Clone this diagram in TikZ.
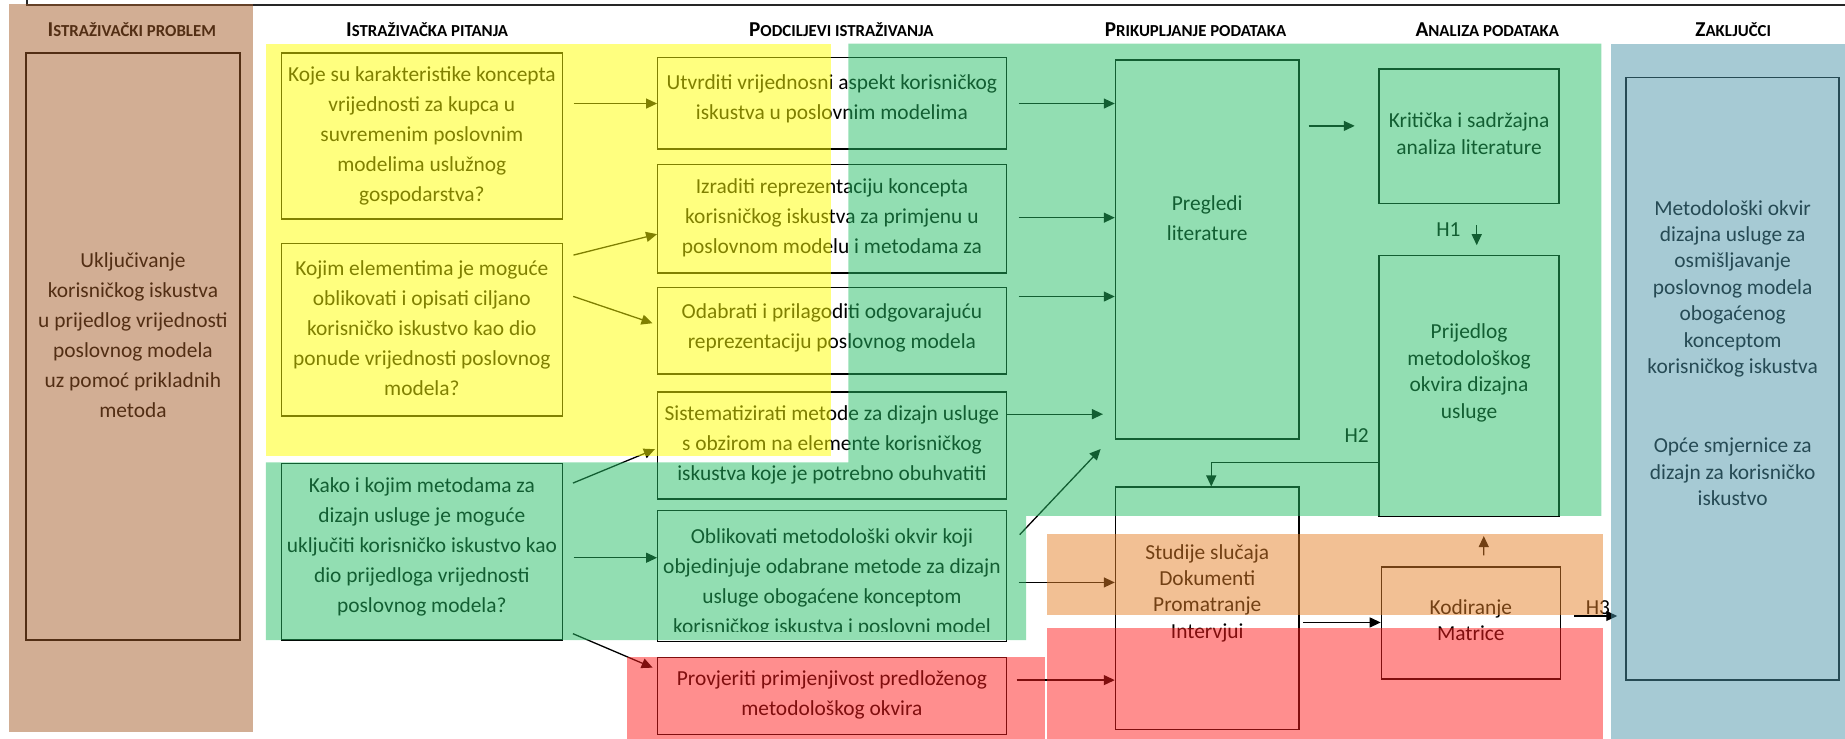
\documentclass[tikz,border=0pt]{standalone}
\usepackage{fontspec}
\setmainfont{Carlito}
\usetikzlibrary{arrows.meta,fit,calc}
\definecolor{cYel}{RGB}{255,255,0}
\definecolor{cGrn}{RGB}{37,189,101}
\definecolor{cBrn}{RGB}{165,93,41}
\definecolor{cBlu}{RGB}{77,149,169}
\definecolor{cOrg}{RGB}{229,129,41}
\definecolor{cRed}{RGB}{255,29,29}
\newcommand\hdr[2]{{\bfseries\fontsize{10.6}{12}\selectfont #1\fontsize{8.4}{10}\selectfont #2}}
\begin{document}
\begin{tikzpicture}[x=0.58833pt, y=-0.58833pt,
  box/.style={draw, line width=0.7pt, inner sep=0pt},
  tl/.style={align=center, inner sep=0pt, font=\fontsize{10.7}{15}\selectfont},
  tr/.style={align=center, inner sep=0pt, font=\fontsize{10.7}{13.2}\selectfont},
  hd/.style={inner sep=0pt, anchor=center},
  lab/.style={inner sep=0pt, font=\fontsize{10.7}{12}\selectfont},
  arr/.style={-{Triangle[length=5.5pt,width=5pt]}, line width=0.65pt},
  ov/.style={fill opacity=0.5}]
\useasboundingbox (0,0) rectangle (1568,628);

% frame line
\draw[line width=0.9pt, black!85] (23,0) -- (23,4.5) -- (1568,4.5);

% headers
\node[hd] (h-prob) at (112,25) {\hdr{I}{STRAŽIVAČKI PROBLEM}};
\node[hd] (h-pit) at (363,25) {\hdr{I}{STRAŽIVAČKA PITANJA}};
\node[hd] (h-pod) at (715,25) {\hdr{P}{ODCILJEVI ISTRAŽIVANJA}};
\node[hd] (h-pri) at (1016,25) {\hdr{P}{RIKUPLJANJE PODATAKA}};
\node[hd] (h-ana) at (1264,25) {\hdr{A}{NALIZA PODATAKA}};
\node[hd] (h-zak) at (1473,25) {\hdr{Z}{AKLJUČCI}};

% boxes
\node[box, fit={(22,45) (204,544)}] (prob) {};
\node[box, fit={(239,45) (478,186)}] (q1) {};
\node[box, fit={(239,207) (478,353.5)}] (q2) {};
\node[box, fit={(239,394) (478,544)}] (q3) {};
\node[box, fit={(559,48.7) (855.5,126.5)}] (s1) {};
\node[box, fit={(559,140) (855.5,232)}] (s2) {};
\node[box, fit={(559,244.5) (855.5,318)}] (s3) {};
\node[box, fit={(559,333) (855.5,424)}] (s4) {};
\node[box, fit={(559,434) (855.5,545)}] (s5) {};
\node[box, fit={(559,559) (855.5,624)}] (s6) {};
\node[box, fit={(948,51) (1104,373)}] (preg) {};
\node[box, fit={(948,414) (1104,620)}] (stud) {};
\node[box, fit={(1172,58.6) (1325,173)}] (krit) {};
\node[box, fit={(1172,217) (1325,439)}] (prij) {};
\node[box, fit={(1174,482) (1326,577)}] (kod) {};
\node[box, fit={(1382,66) (1563,578)}] (zak) {};

% texts
\node[tl] (prob-t) at (113,284.5) {Uključivanje\\korisničkog iskustva\\u prijedlog vrijednosti\\poslovnog modela\\uz pomoć prikladnih\\metoda};
\node[tl] (q1-t) at (358.5,115.5) {Koje su karakteristike koncepta\\vrijednosti za kupca u\\suvremenim poslovnim\\modelima uslužnog\\gospodarstva?};
\node[tl] (q2-t) at (358.5,279) {Kojim elementima je moguće\\oblikovati i opisati ciljano\\korisničko iskustvo kao dio\\ponude vrijednosti poslovnog\\modela?};
\node[tl] (q3-t) at (358.5,465) {Kako i kojim metodama za\\dizajn usluge je moguće\\uključiti korisničko iskustvo kao\\dio prijedloga vrijednosti\\poslovnog modela?};
\node[tl] (s1-t) at (707,84) {Utvrditi vrijednosni aspekt korisničkog\\iskustva u poslovnim modelima};
\node[tl] (s2-t) at (707,185.5) {Izraditi reprezentaciju koncepta\\korisničkog iskustva za primjenu u\\poslovnom modelu i metodama za};
\node[tl] (s3-t) at (707,279) {Odabrati i prilagoditi odgovarajuću\\reprezentaciju poslovnog modela};
\node[tl] (s4-t) at (707,378.5) {Sistematizirati metode za dizajn usluge\\s obzirom na elemente korisničkog\\iskustva koje je potrebno obuhvatiti};
\begin{scope}
\clip (559,434) rectangle (855.5,537);
\node[tl] (s5-t) at (707,495) {Oblikovati metodološki okvir koji\\objedinjuje odabrane metode za dizajn\\usluge obogaćene konceptom\\korisničkog iskustva i poslovni model};
\end{scope}
\node[tl] (s6-t) at (707,591) {Provjeriti primjenjivost predloženog\\metodološkog okvira};
\node[tl] (preg-t) at (1026,185.5) {Pregledi\\literature};
\node[tr] (stud-t) at (1026,504) {Studije slučaja\\Dokumenti\\Promatranje\\Intervjui};
\node[tr] (krit-t) at (1248.5,113.5) {Kritička i sadržajna\\analiza literature};
\node[tr] (prij-t) at (1248.5,317) {Prijedlog\\metodološkog\\okvira dizajna\\usluge};
\node[tr] (kod-t) at (1250,527) {Kodiranje\\Matrice};
\node[tr] (zak-t) at (1472.5,300) {Metodološki okvir\\dizajna usluge za\\osmišljavanje\\poslovnog modela\\obogaćenog\\konceptom\\korisničkog iskustva\\[26.4pt]Opće smjernice za\\dizajn za korisničko\\iskustvo};

% labels
\node[lab] (h1) at (1231,195) {H1};
\node[lab] (h2) at (1153,370) {H2};
\node[lab] (h3) at (1358,516) {H3};

% connectors
\draw[arr, shorten <=5.3pt] (q1.east |- 0,88) -- (s1.west |- 0,88);
\draw[arr, shorten <=5.3pt] (q2.east |- 0,219) -- (s2.west |- 0,199);
\draw[arr, shorten <=5.3pt, shorten >=2.4pt] (q2.east |- 0,249) -- (s3.west |- 0,276);
\draw[arr, shorten <=5.3pt, shorten >=1.2pt] (q3.east |- 0,414) -- (s4.west |- 0,381);
\draw[arr, shorten <=5.3pt] (q3.east |- 0,474) -- (s5.west |- 0,474);
\draw[arr, shorten <=5.3pt, shorten >=2.4pt] (q3.east |- 0,535) -- (s6.west |- 0,569);
\draw[arr, shorten <=5.6pt] (s1.east |- 0,88) -- (preg.west |- 0,88);
\draw[arr, shorten <=5.6pt] (s2.east |- 0,185) -- (preg.west |- 0,185);
\draw[arr, shorten <=5.6pt] (s3.east |- 0,252) -- (preg.west |- 0,252);
\draw[arr, shorten >=5.9pt] (s4.east |- 0,352) -- (preg.west |- 0,352);
\draw[arr] ($(s5.north east)+(10.5,21)$) -- ($(preg.south west)+(-12,8)$);
\draw[arr, shorten <=5.6pt] (s5.east |- 0,495) -- (stud.west |- 0,495);
\draw[arr, shorten <=4.7pt] (s6.east |- 0,578) -- (stud.west |- 0,578);
\draw[arr, shorten <=4.4pt, shorten >=11.8pt] (preg.east |- 0,107) -- (krit.west |- 0,107);
\draw[arr] ($(krit.south)+(6.5,18)$) -- ($(prij.north)+(6.5,-8)$);
\draw[arr] (prij.west |- 0,393) -| ($(stud.north west)+(82,0)$);
\draw[arr, shorten <=1.8pt] (stud.east |- 0,529) -- (kod.west |- 0,529);
\draw[arr] ($(kod.north)+(11,-9.5)$) -- ($(prij.south)+(12.5,16)$);
\draw[arr, shorten <=6.5pt, shorten >=4.1pt] (kod.east |- 0,523.5) -- (zak.west |- 0,523.5);

% translucent colour regions
\fill[cBrn, ov] (8,3.5) rectangle (215,622);
\fill[cYel, ov] (226,37) rectangle (706,387.5);
\fill[cGrn, ov] (226,393) -- (721,393) -- (721,37) -- (1361,37) -- (1361,438.5) -- (872,438.5) -- (872,544) -- (226,544) -- cycle;
\fill[cOrg, ov] (890,454) rectangle (1362,523);
\fill[cRed, ov] (533,558) rectangle (888,628);
\fill[cRed, ov] (890,534) rectangle (1362,628);
\fill[cBlu, ov] (1369,37) rectangle (1568,628);
\end{tikzpicture}
\end{document}
